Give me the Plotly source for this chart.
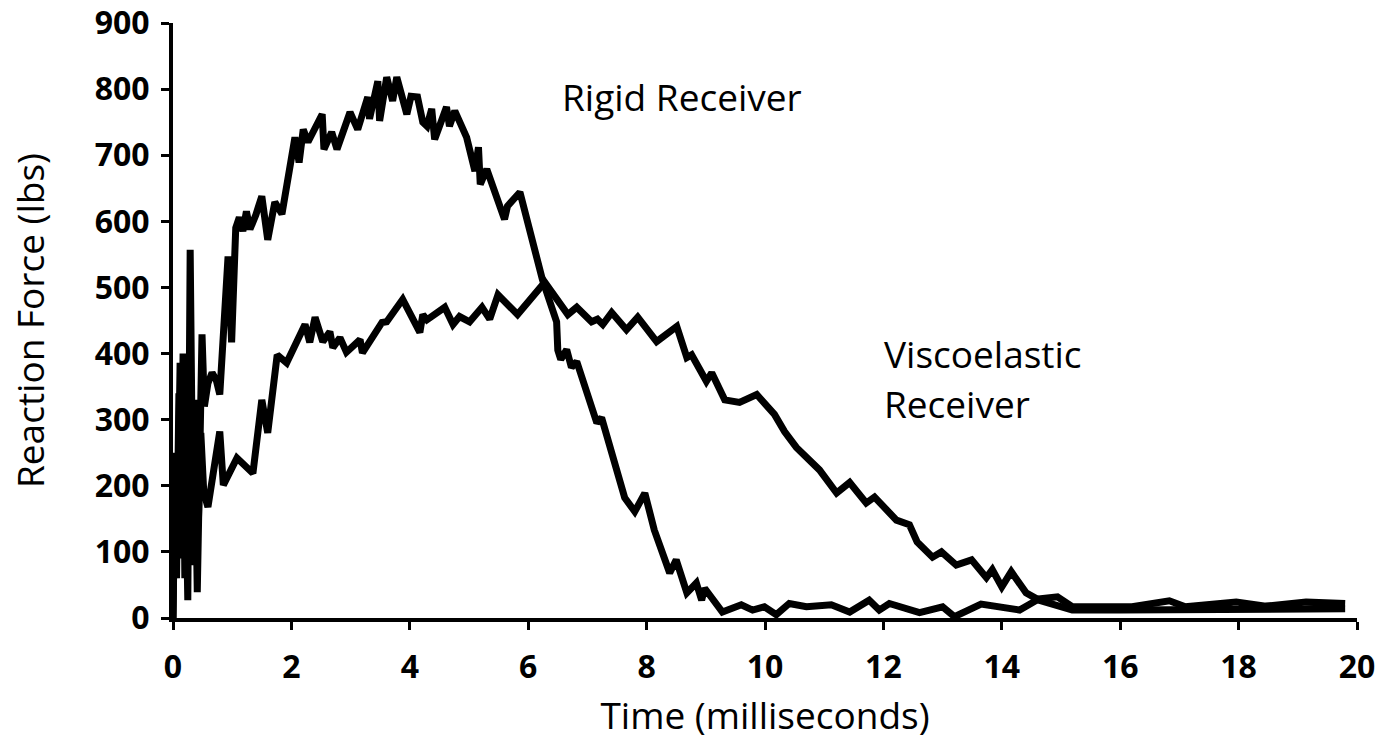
import plotly.graph_objects as go

# Rigid receiver (time ms, force lbs)
rigid_t = [0.00, 0.04, 0.08, 0.12, 0.16, 0.20, 0.25, 0.29, 0.33, 0.36, 0.41, 0.49, 0.53, 0.59, 0.66, 0.73,
           0.79, 0.86, 0.93, 0.99, 1.06, 1.12, 1.18, 1.24, 1.30, 1.40, 1.50, 1.60, 1.72, 1.84, 2.06, 2.13,
           2.20, 2.28, 2.40, 2.52, 2.55, 2.68, 2.77, 2.99, 3.12, 3.29, 3.32, 3.46, 3.49, 3.61, 3.71, 3.78,
           3.95, 4.02, 4.13, 4.22, 4.29, 4.37, 4.42, 4.62, 4.67, 4.76, 4.96, 5.10, 5.16, 5.19, 5.30, 5.57,
           5.60, 5.65, 5.86, 6.24, 6.48, 6.50, 6.55, 6.65, 6.73, 6.82, 7.16, 7.24, 7.63, 7.80, 7.97, 8.13,
           8.39, 8.50, 8.68, 8.84, 8.93, 8.98, 9.28, 9.60, 9.79, 9.99, 10.19, 10.41, 10.70, 11.12, 11.43,
           11.76, 11.93, 12.10, 12.61, 13.00, 13.20, 13.65, 14.30, 14.63, 14.94, 15.19, 15.60, 16.20, 16.83,
           17.10, 17.96, 18.46, 19.14, 19.80]
rigid_f = [0, 250, 150, 386, 120, 300, 27, 557, 200, 330, 39, 429, 320, 355, 371, 360,
           338, 450, 547, 417, 590, 606, 585, 615, 588, 610, 638, 572, 629, 611, 727, 689,
           739, 720, 740, 762, 709, 735, 709, 765, 739, 788, 755, 812, 752, 818, 782, 818,
           762, 789, 788, 750, 744, 770, 724, 773, 744, 767, 727, 676, 712, 656, 679, 614,
           603, 623, 644, 512, 448, 405, 391, 406, 379, 388, 295, 303, 182, 161, 189, 133,
           68, 88, 38, 53, 27, 45, 9, 20, 12, 17, 5, 22, 17, 20, 9,
           27, 12, 22, 8, 17, 2, 21, 12, 29, 32, 17, 16, 17, 26,
           17, 24, 18, 24, 22]

# Viscoelastic receiver
visco_t = [0.00, 0.03, 0.06, 0.10, 0.13, 0.17, 0.20, 0.24, 0.27, 0.31, 0.35, 0.39, 0.43, 0.47, 0.52, 0.59,
           0.79, 0.85, 1.08, 1.35, 1.50, 1.60, 1.76, 1.92, 2.23, 2.31, 2.40, 2.53, 2.65, 2.70, 2.82, 2.93,
           3.16, 3.20, 3.53, 3.61, 3.88, 4.17, 4.22, 4.29, 4.59, 4.73, 4.84, 5.01, 5.22, 5.35, 5.49, 5.82,
           6.28, 6.67, 6.82, 7.07, 7.17, 7.26, 7.41, 7.66, 7.85, 8.17, 8.51, 8.68, 8.76, 9.01, 9.10, 9.32,
           9.57, 9.86, 10.16, 10.33, 10.53, 10.92, 11.21, 11.43, 11.71, 11.85, 12.22, 12.44, 12.57, 12.83,
           12.98, 13.23, 13.49, 13.74, 13.84, 14.00, 14.16, 14.41, 14.63, 15.19, 16.00, 17.00, 18.00, 19.00,
           19.80]
visco_f = [0, 220, 60, 340, 90, 400, 60, 380, 120, 330, 80, 300, 150, 280, 190, 168,
           282, 201, 242, 219, 330, 280, 398, 386, 444, 417, 455, 418, 433, 409, 424, 402,
           421, 401, 447, 448, 482, 432, 459, 451, 470, 444, 456, 448, 470, 452, 489, 459,
           508, 459, 470, 448, 452, 444, 462, 436, 455, 418, 441, 394, 398, 358, 371, 330,
           326, 338, 308, 282, 258, 224, 189, 205, 174, 183, 148, 141, 115, 92,
           100, 80, 88, 61, 73, 47, 70, 38, 27, 12, 12, 12, 12, 13,
           14]

x_ticks = [0, 2, 4, 6, 8, 10, 12, 14, 16, 18, 20]
y_ticks = [0, 100, 200, 300, 400, 500, 600, 700, 800, 900]

FONT = "Open Sans"
TXT = 37
TICK = 32

fig = go.Figure()
for t, f in [(visco_t, visco_f), (rigid_t, rigid_f)]:
    fig.add_trace(go.Scatter(x=t, y=f, mode="lines",
                             line=dict(color="black", width=7),
                             showlegend=False, hoverinfo="skip"))

fig.add_annotation(x=6.53, y=789, text="Rigid Receiver", showarrow=False,
                   xanchor="left", yanchor="middle", font=dict(family=FONT, size=TXT, color="black"))
fig.add_annotation(x=11.97, y=400, text="Viscoelastic", showarrow=False,
                   xanchor="left", yanchor="middle", font=dict(family=FONT, size=TXT, color="black"))
fig.add_annotation(x=11.97, y=325, text="Receiver", showarrow=False,
                   xanchor="left", yanchor="middle", font=dict(family=FONT, size=TXT, color="black"))

fig.update_layout(
    width=1389, height=742,
    margin=dict(l=173, r=32, t=23, b=124),
    plot_bgcolor="white", paper_bgcolor="white",
    font=dict(family=FONT, color="black"),
)
fig.update_xaxes(
    range=[0, 20], tickvals=x_ticks, ticktext=[str(v) for v in x_ticks],
    automargin=False,
    showgrid=False, zeroline=False, showline=True, linecolor="black", linewidth=4,
    ticks="outside", ticklen=8, tickwidth=3, tickcolor="black",
    tickfont=dict(family=FONT, size=TICK, color="black", weight="bold"),
    ticklabelstandoff=10,
    title=dict(text="Time (milliseconds)", font=dict(family=FONT, size=TXT, color="black"), standoff=18),
)
fig.update_yaxes(
    range=[0, 900], tickvals=y_ticks, ticktext=[str(v) for v in y_ticks],
    automargin=False,
    showgrid=False, zeroline=False, showline=True, linecolor="black", linewidth=4,
    ticks="outside", ticklen=8, tickwidth=3, tickcolor="black",
    tickfont=dict(family=FONT, size=TICK, color="black", weight="bold"),
    ticklabelstandoff=5,
    title=dict(text="Reaction Force (lbs)", font=dict(family=FONT, size=TXT, color="black"), standoff=40),
)

fig.write_html("out.html", config={"displayModeBar": False},
               post_script="document.body.style.margin='0';document.body.style.padding='0';")
